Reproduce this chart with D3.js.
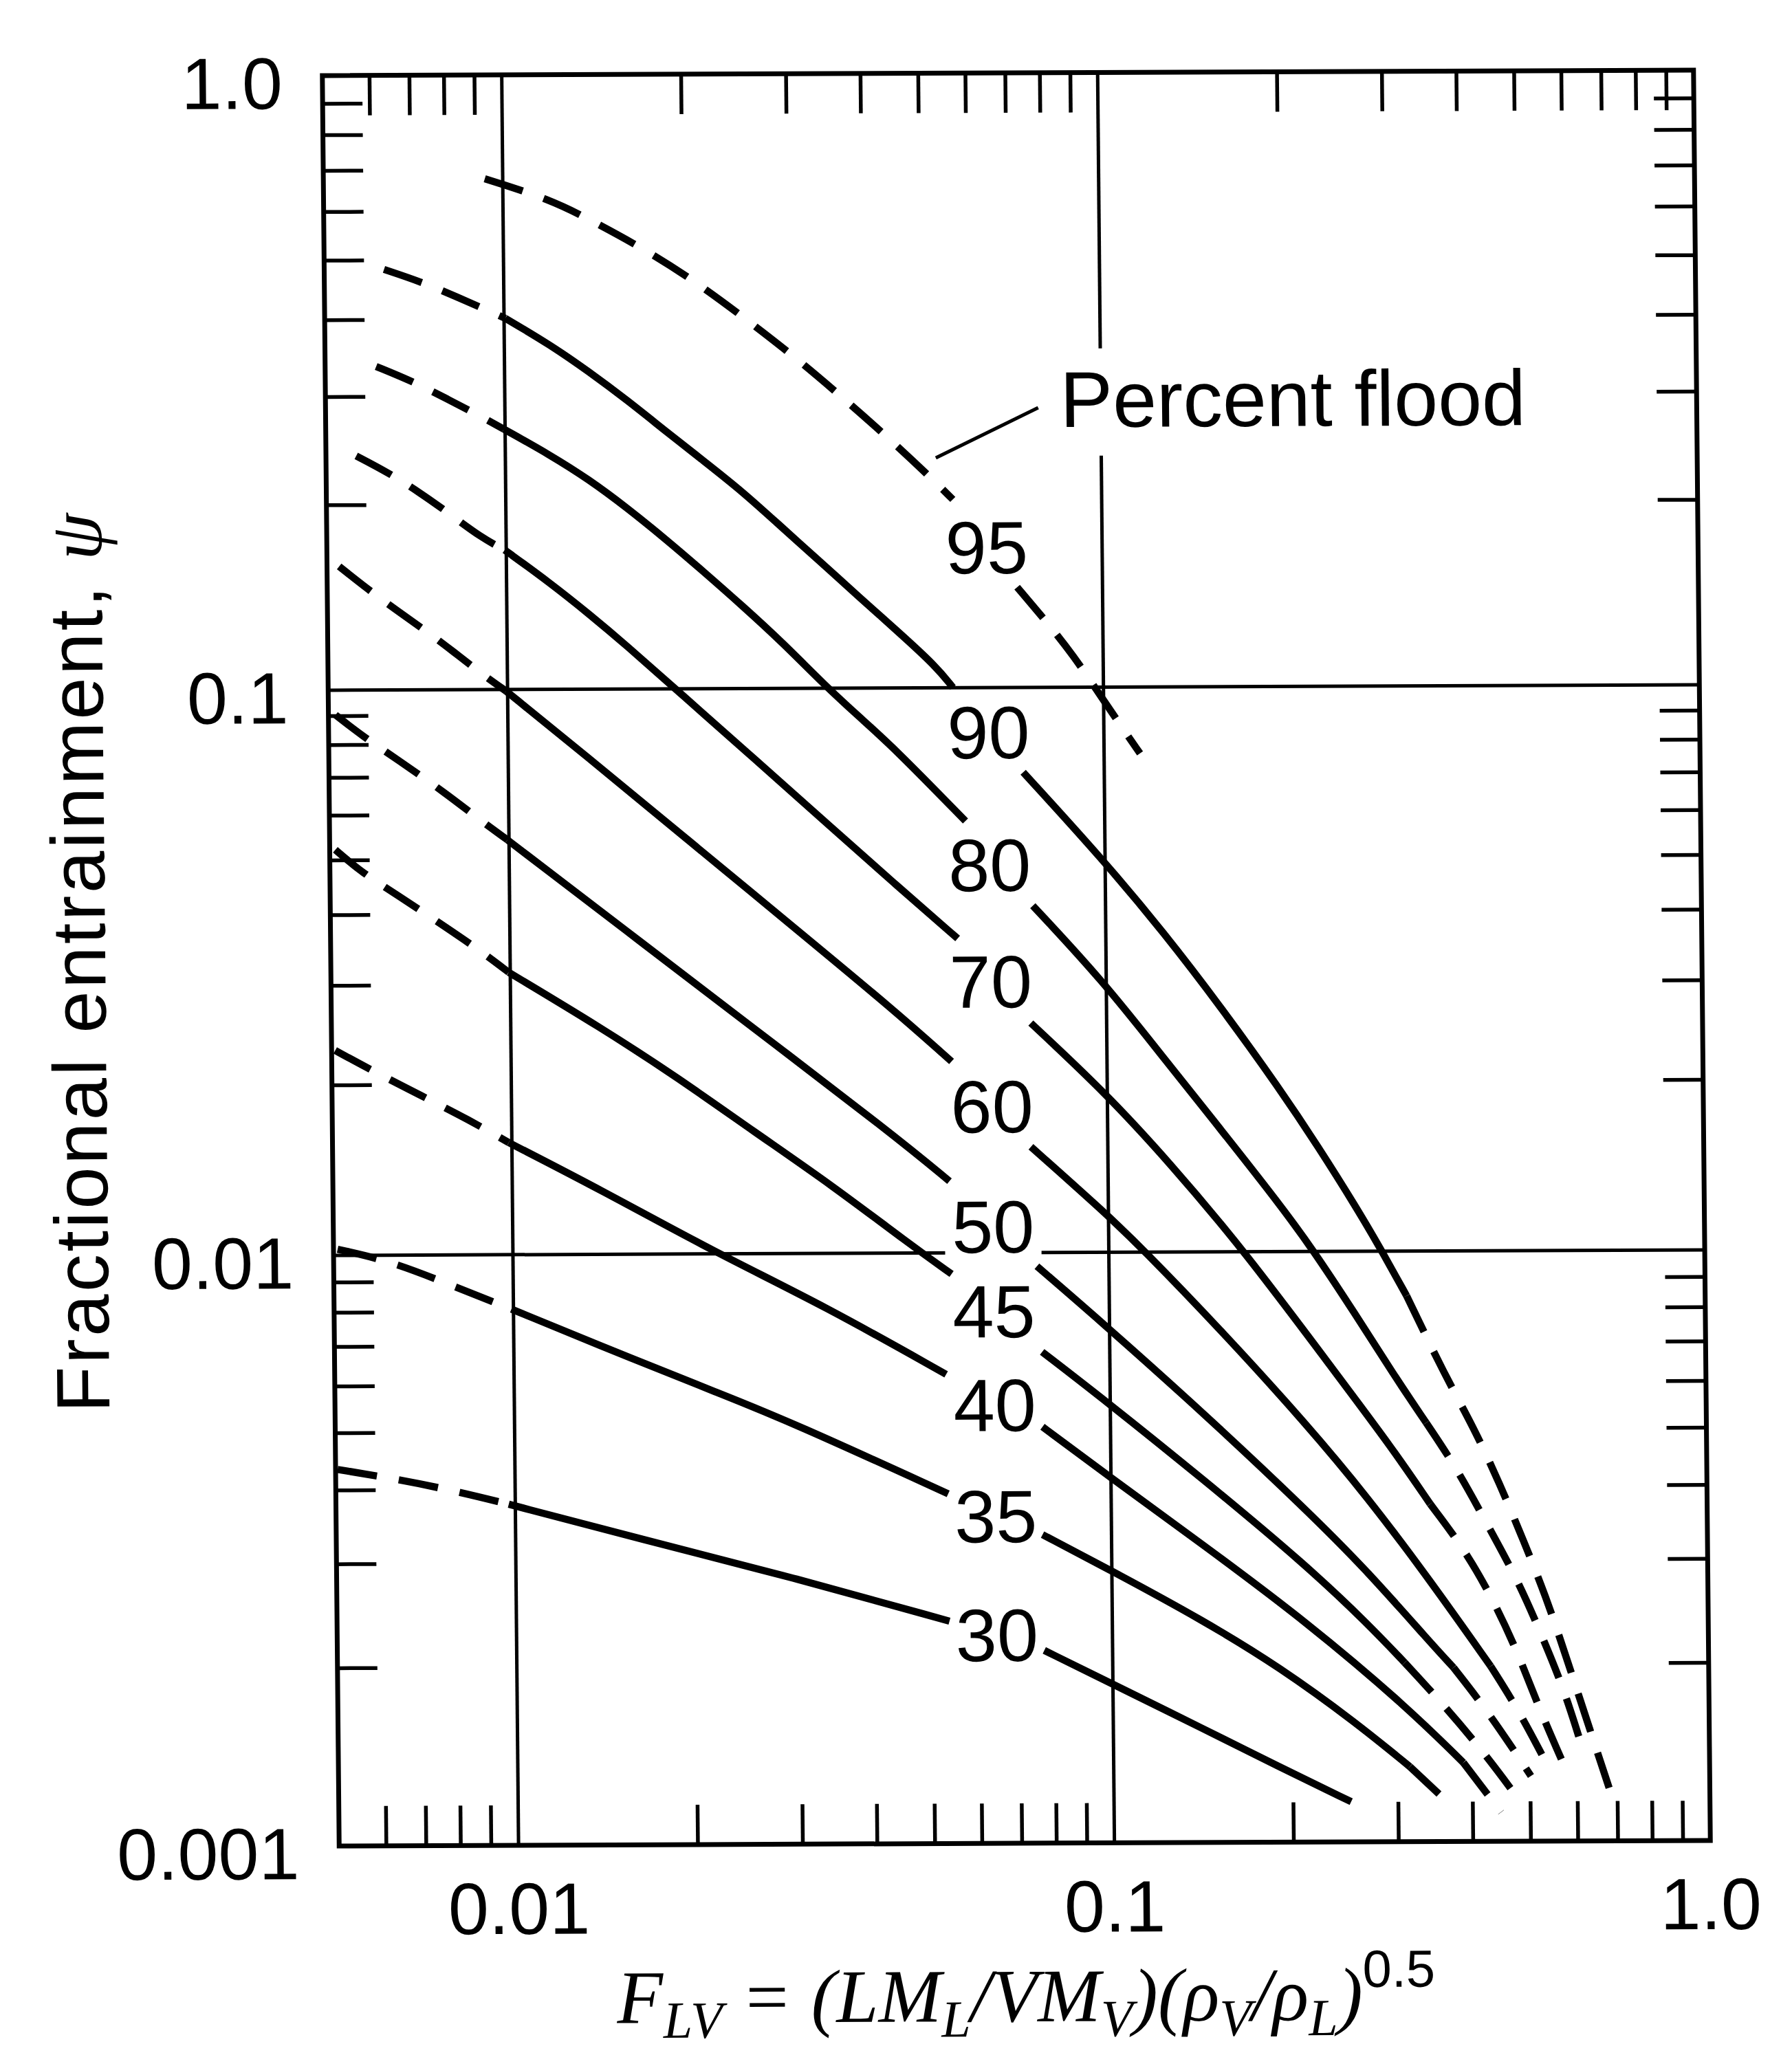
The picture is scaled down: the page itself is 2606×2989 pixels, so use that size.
<!DOCTYPE html>
<html><head><meta charset="utf-8">
<script src="https://cdn.jsdelivr.net/npm/d3@7"></script>
<style>html,body{margin:0;padding:0;background:#fff;} svg{display:block}</style>
</head><body>
<script>
// ---------------- data ----------------
const xTickValues = [0.01, 0.1, 1.0];
const xTickText = ["0.01", "0.1", "1.0"];
const yTickValues = [1.0, 0.1, 0.01, 0.001];
const yTickText = ["1.0", "0.1", "0.01", "0.001"];
const xGrid = [0.01, 0.1];
const yGrid = [0.1, 0.01];
const floodLevels = [95, 90, 80, 70, 60, 50, 45, 40, 35, 30];
const labelX = 0.064;
const labelY = [0.1696, 0.0836, 0.0487, 0.0303, 0.0182, 0.01116, 0.00798, 0.00554, 0.00359, 0.00226];
const noteText = "Percent flood";
const notePos = [0.0854, 0.2652];
const noteLeader = [[0.05276, 0.2366], [0.0785, 0.2852]];
// [F_LV, psi, style of segment starting here: d = dashed, s = solid, g = gap for label]
const curve95 = [[0.00933,0.678,'d'],[0.0120,0.627,'d'],[0.01425,0.575,'d'],[0.01751,0.515,'d'],[0.02123,0.456,'d'],[0.02574,0.396,'d'],[0.03094,0.3442,'d'],[0.03704,0.296,'d'],[0.04346,0.2579,'d'],[0.05155,0.2205,'d'],[0.05626,0.2025,'g'],[0.0719,0.1456,'d'],[0.0809,0.1270,'d'],[0.0889,0.1131,'d'],[0.0992,0.0960,'d'],[0.1065,0.0858,'d'],[0.1149,0.0763,null]];
const curve90 = [[0.00630,0.4834,'d'],[0.00727,0.4612,'d'],[0.00835,0.4355,'d'],[0.00941,0.4134,'d'],[0.01005,0.4018,'s'],[0.01195,0.3634,'s'],[0.01382,0.3291,'s'],[0.01604,0.2952,'s'],[0.01859,0.2627,'s'],[0.02155,0.2345,'s'],[0.02504,0.2087,'s'],[0.02902,0.1829,'s'],[0.03363,0.1607,'s'],[0.03899,0.1408,'s'],[0.04518,0.1238,'s'],[0.05236,0.1085,'s'],[0.0559,0.1001,'g'],[0.0731,0.0708,'s'],[0.0989,0.0497,'s'],[0.1253,0.0367,'s'],[0.1562,0.02696,'s'],[0.1946,0.01942,'s'],[0.2252,0.01535,'s'],[0.2610,0.01193,'s'],[0.2852,0.01014,'s'],[0.3155,0.00840,'d'],[0.3647,0.00616,'d'],[0.4070,0.00502,'d'],[0.4491,0.00403,'d'],[0.4906,0.00324,'d'],[0.5343,0.00260,'d'],[0.5759,0.00206,'d'],[0.6174,0.00165,'d'],[0.6776,0.00123,null]];
const curve80 = [[0.00609,0.3361,'d'],[0.00701,0.3176,'d'],[0.00799,0.2976,'d'],[0.00912,0.2781,'d'],[0.00995,0.2653,'s'],[0.01189,0.2406,'s'],[0.01379,0.2195,'s'],[0.01596,0.1973,'s'],[0.01852,0.1753,'s'],[0.02145,0.1549,'s'],[0.02495,0.1359,'s'],[0.02887,0.1192,'s'],[0.03413,0.1010,'s'],[0.03888,0.0889,'s'],[0.04440,0.0784,'s'],[0.05838,0.0581,'g'],[0.0755,0.0411,'s'],[0.0985,0.0303,'s'],[0.1247,0.0220,'s'],[0.1555,0.01637,'s'],[0.1939,0.01212,'s'],[0.2198,0.01009,'s'],[0.2580,0.00786,'s'],[0.2995,0.00617,'s'],[0.3387,0.00512,'d'],[0.3808,0.00428,'d'],[0.4273,0.00344,'d'],[0.4779,0.00279,'d'],[0.5236,0.00225,'d'],[0.5722,0.00180,'d'],[0.6103,0.00145,null]];
const curve70 = [[0.00562,0.2405,'d'],[0.00634,0.2261,'d'],[0.00716,0.2098,'d'],[0.00806,0.1931,'d'],[0.00908,0.1768,'d'],[0.00994,0.1687,'s'],[0.01182,0.1491,'s'],[0.01372,0.1327,'s'],[0.01588,0.1176,'s'],[0.01902,0.1005,'s'],[0.02589,0.0751,'s'],[0.03486,0.0566,'s'],[0.04416,0.0452,'s'],[0.0564,0.0360,'g'],[0.0746,0.02548,'s'],[0.0994,0.01912,'s'],[0.1266,0.01443,'s'],[0.1681,0.01010,'s'],[0.2408,0.00617,'s'],[0.2971,0.00463,'s'],[0.3430,0.00373,'d'],[0.3923,0.00311,'d'],[0.4399,0.00252,'d'],[0.4819,0.00205,'d'],[0.5208,0.00166,'d'],[0.5723,0.00133,null]];
const curve60 = [[0.00524,0.1590,'d'],[0.00585,0.1459,'d'],[0.00650,0.1353,'d'],[0.00732,0.1246,'d'],[0.00813,0.1153,'d'],[0.00904,0.1062,'d'],[0.00994,0.0994,'s'],[0.01342,0.0767,'s'],[0.01994,0.0541,'s'],[0.02960,0.0382,'s'],[0.04395,0.02694,'s'],[0.05484,0.02182,'g'],[0.0743,0.01539,'s'],[0.0984,0.01178,'s'],[0.1129,0.01024,'s'],[0.1556,0.00728,'s'],[0.2133,0.00510,'s'],[0.2695,0.00383,'s'],[0.3409,0.00278,'s'],[0.4307,0.00198,'d'],[0.4803,0.00166,'d'],[0.5414,0.00131,null]];
const curve50 = [[0.00514,0.0904,'d'],[0.00571,0.0828,'d'],[0.00650,0.0755,'d'],[0.00788,0.0654,'d'],[0.00889,0.0591,'d'],[0.00994,0.0542,'s'],[0.01571,0.0373,'s'],[0.02435,0.02607,'s'],[0.04375,0.01618,'s'],[0.05416,0.01340,'g'],[0.0757,0.00948,'s'],[0.0980,0.00755,'s'],[0.1432,0.00534,'s'],[0.2127,0.00365,'s'],[0.2688,0.00287,'s'],[0.3405,0.00218,'s'],[0.3731,0.00197,'d'],[0.4273,0.00165,'d'],[0.5012,0.00129,null]];
const curve45 = [[0.00511,0.0522,'d'],[0.00568,0.0474,'d'],[0.00646,0.0435,'d'],[0.00784,0.0379,'d'],[0.00899,0.0343,'d'],[0.00994,0.0316,'s'],[0.01413,0.02523,'s'],[0.01899,0.02055,'s'],[0.02551,0.01644,'s'],[0.03440,0.01320,'s'],[0.04623,0.01039,'s'],[0.05442,0.00921,'g'],[0.0770,0.00679,'s'],[0.0977,0.00563,'s'],[0.1429,0.00412,'s'],[0.2122,0.00294,'s'],[0.2683,0.00234,'s'],[0.3090,0.00201,'d'],[0.3557,0.00172,'d'],[0.4172,0.00142,'d'],[0.4740,0.00119,null]];
const curve40 = [[0.00507,0.02305,'d'],[0.00581,0.02129,'d'],[0.00710,0.01908,'d'],[0.00848,0.01733,'d'],[0.00988,0.01579,'s'],[0.01405,0.01302,'s'],[0.02189,0.01005,'s'],[0.03334,0.00814,'s'],[0.05309,0.00623,'g'],[0.0769,0.00507,'s'],[0.0975,0.00423,'s'],[0.1426,0.00319,'s'],[0.2118,0.00236,'s'],[0.3114,0.00169,'s'],[0.3862,0.00136,'d'],[0.4461,0.00112,null]];
const curve35 = [[0.00508,0.01025,'d'],[0.00621,0.00978,'d'],[0.00776,0.00894,'d'],[0.00992,0.00809,'s'],[0.01620,0.00658,'s'],[0.02178,0.00584,'s'],[0.02930,0.00517,'s'],[0.05328,0.00391,'g'],[0.0766,0.00333,'s'],[0.0992,0.00290,'s'],[0.1418,0.00238,'s'],[0.1905,0.00198,'s'],[0.2559,0.00159,'s'],[0.3140,0.00134,'d'],[0.3715,0.00114,null]];
const curve30 = [[0.00504,0.00434,'d'],[0.00630,0.00418,'d'],[0.00788,0.00399,'d'],[0.00975,0.00378,'s'],[0.01609,0.00330,'s'],[0.02913,0.00283,'s'],[0.05330,0.00238,'g'],[0.0768,0.00212,'s'],[0.0996,0.00186,'s'],[0.1413,0.00156,'s'],[0.1899,0.00134,'s'],[0.2500,0.00117,null]];
const curves = [curve95, curve90, curve80, curve70, curve60, curve50, curve45, curve40, curve35, curve30];

// ---------------- drawing ----------------
const W = 2606, H = 2989;
const SANS = "'Liberation Sans', Arial, Helvetica, sans-serif";
const SERIF = "'Liberation Serif', 'Times New Roman', serif";
const svg = d3.select("body").append("svg").attr("width", W).attr("height", H);
svg.append("rect").attr("width", W).attr("height", H).attr("fill", "#fff");
// slight skew of the scanned original
const g = svg.append("g").attr("transform", "matrix(1,-0.004,0.0095,1,-13.23,5.91)");

const x = d3.scaleLog().domain([0.005, 1]).range([481, 2475]);
const y = d3.scaleLog().domain([0.001, 0.01, 0.1, 1]).range([2681, 1822, 1000, 106]);
const [xl, xr] = x.range();
const yb = y(0.001), yt = y(1);

// grid lines
const grid = g.append("g").attr("stroke", "#000").attr("stroke-width", 5);
xGrid.forEach(v => grid.append("line").attr("x1", x(v)).attr("x2", x(v)).attr("y1", yt).attr("y2", yb));
yGrid.forEach(v => grid.append("line").attr("x1", xl).attr("x2", xr).attr("y1", y(v)).attr("y2", y(v)));

// minor ticks (inward, all four sides)
const isDecade = v => Math.abs(Math.log10(v) - Math.round(Math.log10(v))) < 1e-6;
const TL = 58;
const tk = g.append("g").attr("stroke", "#000").attr("stroke-width", 5.5);
x.ticks().filter(v => !isDecade(v) && v > 0.0051 && v < 0.999).forEach(v => {
  tk.append("line").attr("x1", x(v)).attr("x2", x(v)).attr("y1", yb).attr("y2", yb - TL);
  tk.append("line").attr("x1", x(v)).attr("x2", x(v)).attr("y1", yt).attr("y2", yt + TL);
});
y.ticks().filter(v => !isDecade(v)).forEach(v => {
  tk.append("line").attr("x1", xl).attr("x2", xl + TL).attr("y1", y(v)).attr("y2", y(v));
  tk.append("line").attr("x1", xr).attr("x2", xr - TL).attr("y1", y(v)).attr("y2", y(v));
});

// frame
g.append("rect").attr("x", xl).attr("y", yt).attr("width", xr - xl).attr("height", yb - yt)
  .attr("fill", "none").attr("stroke", "#000").attr("stroke-width", 7);

// tick labels
const FS = 106;
yTickValues.forEach((v, i) => {
  g.append("text").attr("x", xl - 58).attr("y", y(v) + 48).attr("text-anchor", "end")
    .attr("font-family", SANS).attr("font-size", FS).text(yTickText[i]);
});
xTickValues.forEach((v, i) => {
  g.append("text").attr("x", x(v)).attr("y", yb + 129).attr("text-anchor", "middle")
    .attr("font-family", SANS).attr("font-size", FS).text(xTickText[i]);
});

// curve labels with white backing (they interrupt grid lines)
const labelLayer = g.append("g");
const curveLayer = g.append("g");
const textLayer = g.append("g");
floodLevels.forEach((f, i) => {
  const t = textLayer.append("text").attr("x", x(labelX)).attr("y", y(labelY[i]) + 39)
    .attr("text-anchor", "middle").attr("font-family", SANS).attr("font-size", 108).text(f);
  const b = t.node().getBBox();
  labelLayer.append("rect").attr("x", b.x - 10).attr("y", b.y).attr("width", b.width + 20)
    .attr("height", b.height).attr("fill", "#fff");
});

// "Percent flood" note
const nt = textLayer.append("text").attr("x", x(notePos[0])).attr("y", y(notePos[1]))
  .attr("font-family", SANS).attr("font-size", 115).text(noteText);
const nb = nt.node().getBBox();
labelLayer.append("rect").attr("x", nb.x - 10).attr("y", nb.y - 10).attr("width", nb.width + 20)
  .attr("height", nb.height + 28).attr("fill", "#fff");
curveLayer.append("line").attr("x1", x(noteLeader[0][0])).attr("y1", y(noteLeader[0][1]))
  .attr("x2", x(noteLeader[1][0])).attr("y2", y(noteLeader[1][1]))
  .attr("stroke", "#000").attr("stroke-width", 5);

// curves (smooth B-spline through the read points)
const line = d3.line().x(d => x(d[0])).y(d => y(d[1])).curve(d3.curveBasis);
curves.forEach(pts => {
  const runs = [];
  let cur = null;
  for (let i = 0; i < pts.length - 1; i++) {
    const st = pts[i][2];
    if (st === 'g') { cur = null; continue; }
    if (!cur || cur.style !== st) { cur = { style: st, pts: [pts[i]] }; runs.push(cur); }
    cur.pts.push(pts[i + 1]);
  }
  runs.forEach(r => {
    curveLayer.append("path").attr("d", line(r.pts)).attr("fill", "none")
      .attr("stroke", "#000").attr("stroke-width", 10.5)
      .attr("stroke-dasharray", r.style === 'd' ? "58,32" : null);
  });
});

// axis titles
const yt_ = g.append("text").attr("transform", `translate(${xl - 328},${(yt + yb) / 2}) rotate(-90)`)
  .attr("text-anchor", "middle").attr("font-family", SANS).attr("font-size", 110)
  .attr("letter-spacing", 3.5);
yt_.append("tspan").text("Fractional entrainment, ");
yt_.append("tspan").attr("font-family", SERIF).attr("font-style", "italic").text("ψ");

const xt = g.append("text").attr("x", (xl + xr) / 2).attr("y", yb + 259).attr("text-anchor", "middle")
  .attr("font-family", SERIF).attr("font-style", "italic").attr("font-size", 110);
const parts = [
  ["F", 0], ["LV", 1], [" = (", 0], ["LM", 0], ["L", 1], ["/", 0], ["VM", 0], ["V", 1], [")(", 0],
  ["ρ", 0], ["V", 1], ["/", 0], ["ρ", 0], ["L", 1], [")", 0], ["0.5", 2]
];
let level = 0;
parts.forEach(([s, lv]) => {
  const off = v => (v === 1 ? 22 : v === 2 ? -48 : 0);
  const dy = off(lv) - off(level);
  const ts = xt.append("tspan").attr("dy", dy).text(s);
  if (lv === 1) ts.attr("font-size", 76);
  if (lv === 2) ts.attr("font-size", 76).attr("font-family", SANS).attr("font-style", "normal");
  level = lv;
});
</script>
</body></html>
